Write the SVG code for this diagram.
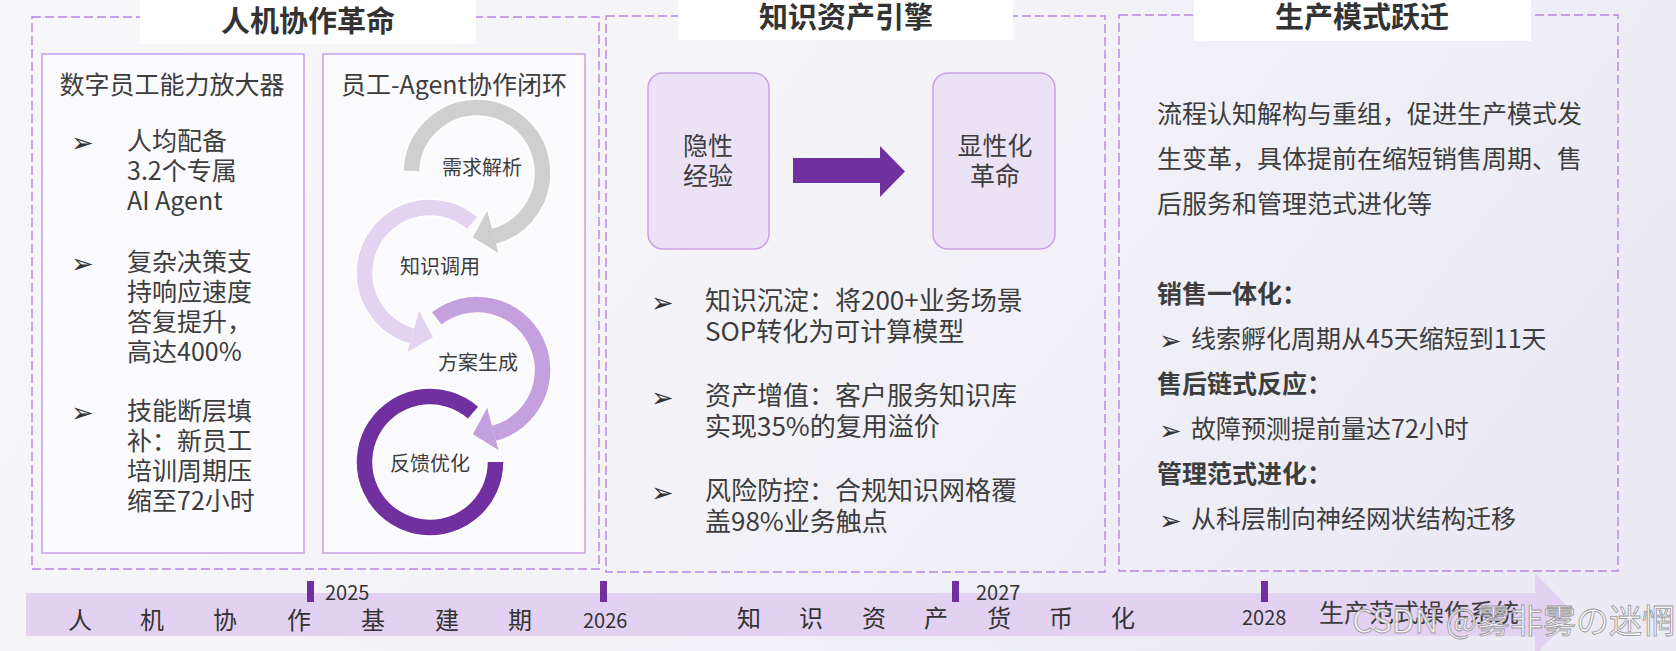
<svg xmlns="http://www.w3.org/2000/svg" width="1676" height="651" viewBox="0 0 1676 651">
<defs>
<linearGradient id="bg" x1="0" y1="0" x2="1" y2="0.3">
<stop offset="0" stop-color="#f7f7fa"/>
<stop offset="0.5" stop-color="#f4f4f8"/>
<stop offset="1" stop-color="#ecebf5"/>
</linearGradient>
<style>
.t{font-family:"Noto Sans CJK SC","Noto Sans",sans-serif;fill:#3d3d3d}
.title{font-size:29px;font-weight:bold;fill:#333;text-anchor:middle}
.h{font-size:25px}
.b25{font-size:25px}
.b26{font-size:26px}
.bold{font-weight:bold}
.ring{font-size:20px;text-anchor:middle}
.yr{font-size:20px;fill:#333}
.ph{font-size:24px;fill:#333;text-anchor:middle}
.arr{font-family:"DejaVu Sans",sans-serif;font-size:27px;fill:#333}
.dash{fill:none;stroke:#b784e2;stroke-width:1.4;stroke-dasharray:9 4}
.inner{fill:#fbfbfd;stroke:#c8a6e8;stroke-width:1.6}
.wbox{fill:#ffffff}
.card{fill:#ece2f6;stroke:#c9a3e4;stroke-width:1.5}
.halo{fill:none;stroke:#ffffff;stroke-width:19}
.halo2{stroke:#ffffff;stroke-width:3;stroke-linejoin:round}
.tick{fill:#7030a0}
</style>
</defs>
<rect x="0" y="0" width="1676" height="651" fill="url(#bg)"/>

<!-- Panel 1 -->
<g id="panel-hmc">
<rect class="dash" x="32" y="17" width="567" height="552"/>
<rect class="wbox" x="140" y="0" width="336" height="44"/>
<text class="t title" x="308" y="32">人机协作革命</text>
</g>
<g id="box-amplifier">
<rect class="inner" x="42" y="54" width="262" height="499"/>
<text class="t h" x="172" y="94" text-anchor="middle">数字员工能力放大器</text>
<text class="arr" x="71" y="152">➢</text>
<text class="t b25" x="127" y="150">人均配备</text>
<text class="t b25" x="127" y="180">3.2个专属</text>
<text class="t b25" x="127" y="210">AI Agent</text>
<text class="arr" x="71" y="273">➢</text>
<text class="t b25" x="127" y="271">复杂决策支</text>
<text class="t b25" x="127" y="301">持响应速度</text>
<text class="t b25" x="127" y="331">答复提升，</text>
<text class="t b25" x="127" y="361">高达400%</text>
<text class="arr" x="71" y="422">➢</text>
<text class="t b25" x="127" y="420">技能断层填</text>
<text class="t b25" x="127" y="450">补：新员工</text>
<text class="t b25" x="127" y="480">培训周期压</text>
<text class="t b25" x="127" y="510">缩至72小时</text>
</g>
<g id="box-loop">
<rect class="inner" x="323" y="54" width="262" height="499"/>
<text class="t h" x="454" y="94" text-anchor="middle">员工-Agent协作闭环</text>
</g>

<!-- cycle rings -->
<g id="ring-feedback">
<path class="halo" d="M 495.5 462 A 65.5 65.5 0 1 1 473 412.6"/>
<path d="M 495.5 462 A 65.5 65.5 0 1 1 473 412.6" fill="none" stroke="#7030a0" stroke-width="15.5"/>
<text class="t ring" x="430" y="471">反馈优化</text>
</g>
<g id="ring-solution">
<path class="halo" d="M 436.7 318.4 A 65.5 65.5 0 1 1 493.95 433.27"/>
<polygon class="halo2" fill="#ffffff" points="498.6,450.2 487.2,407.8 472.8,434.3"/>
<path d="M 436.7 318.4 A 65.5 65.5 0 1 1 493.95 433.27" fill="none" stroke="#c5a0df" stroke-width="15.5"/>
<polygon fill="#c5a0df" points="498.6,450.2 487.2,407.8 472.8,434.3"/>
<text class="t ring" x="478" y="370">方案生成</text>
</g>
<g id="ring-knowledge">
<path class="halo" d="M 472.1 222.8 A 65.5 65.5 0 1 0 411.95 335.96"/>
<polygon class="halo2" fill="#ffffff" points="407.2,352.6 419.2,310.6 433,337.3"/>
<path d="M 472.1 222.8 A 65.5 65.5 0 1 0 411.95 335.96" fill="none" stroke="#e3d3f1" stroke-width="15.5"/>
<polygon fill="#e3d3f1" points="407.2,352.6 419.2,310.6 433,337.3"/>
<text class="t ring" x="440" y="274">知识调用</text>
</g>
<g id="ring-demand">
<path class="halo" d="M 411.5 170.7 A 65.5 65.5 0 1 1 493.95 236.27"/>
<polygon class="halo2" fill="#ffffff" points="498.6,253.2 487.2,210.8 472.8,237.3"/>
<path d="M 411.5 170.7 A 65.5 65.5 0 1 1 493.95 236.27" fill="none" stroke="#d0cfd0" stroke-width="15.5"/>
<polygon fill="#d0cfd0" points="498.6,253.2 487.2,210.8 472.8,237.3"/>
<text class="t ring" x="482" y="175">需求解析</text>
</g>

<!-- Panel 2 -->
<g id="panel-ka">
<rect class="dash" x="606" y="16" width="499" height="556"/>
<rect class="wbox" x="678" y="0" width="335" height="40"/>
<text class="t title" x="846" y="28">知识资产引擎</text>
<text class="arr" x="651" y="312">➢</text>
<text class="t b26" x="705" y="310">知识沉淀：将200+业务场景</text>
<text class="t b26" x="705" y="341">SOP转化为可计算模型</text>
<text class="arr" x="651" y="407">➢</text>
<text class="t b26" x="705" y="405">资产增值：客户服务知识库</text>
<text class="t b26" x="705" y="436">实现35%的复用溢价</text>
<text class="arr" x="651" y="502">➢</text>
<text class="t b26" x="705" y="500">风险防控：合规知识网格覆</text>
<text class="t b26" x="705" y="531">盖98%业务触点</text>
</g>
<g id="card-tacit">
<rect class="card" x="648" y="73" width="121" height="176" rx="15"/>
<text class="t b25" x="708" y="155" text-anchor="middle">隐性</text>
<text class="t b25" x="708" y="185" text-anchor="middle">经验</text>
</g>
<g id="card-explicit">
<rect class="card" x="933" y="73" width="122" height="176" rx="15"/>
<text class="t b25" x="995" y="155" text-anchor="middle">显性化</text>
<text class="t b25" x="995" y="185" text-anchor="middle">革命</text>
</g>
<g id="connectors">
<polygon fill="#7030a0" points="793,158 880,158 880,146 905,171.5 880,197 880,183 793,183"/>
</g>

<!-- Panel 3 -->
<g id="panel-pm">
<rect class="dash" x="1119" y="15" width="499" height="556"/>
<rect class="wbox" x="1194" y="0" width="337" height="41"/>
<text class="t title" x="1362" y="28">生产模式跃迁</text>
<text class="t b25" x="1157" y="123">流程认知解构与重组，促进生产模式发</text>
<text class="t b25" x="1157" y="168">生变革，具体提前在缩短销售周期、售</text>
<text class="t b25" x="1157" y="213">后服务和管理范式进化等</text>
<text class="t b25 bold" x="1157" y="303">销售一体化：</text>
<text class="arr" x="1159" y="350">➢</text>
<text class="t b25" x="1191" y="348">线索孵化周期从45天缩短到11天</text>
<text class="t b25 bold" x="1157" y="393">售后链式反应：</text>
<text class="arr" x="1159" y="440">➢</text>
<text class="t b25" x="1191" y="438">故障预测提前量达72小时</text>
<text class="t b25 bold" x="1157" y="483">管理范式进化：</text>
<text class="arr" x="1159" y="530">➢</text>
<text class="t b25" x="1191" y="528">从科层制向神经网状结构迁移</text>
</g>

<!-- Timeline -->
<g id="timeline">
<polygon fill="#e2d1f1" points="26,593 1535,593 1535,573 1575,614 1535,655 1535,636 26,636"/>
<rect class="tick" x="307" y="581" width="7" height="21"/>
<rect class="tick" x="600" y="581" width="7" height="21"/>
<rect class="tick" x="952" y="581" width="7" height="21"/>
<rect class="tick" x="1261" y="581" width="7" height="21"/>
<text class="t yr" x="325" y="600">2025</text>
<text class="t yr" x="583" y="628">2026</text>
<text class="t yr" x="976" y="600">2027</text>
<text class="t yr" x="1242" y="625">2028</text>
<text class="t ph" x="80" y="629">人</text>
<text class="t ph" x="152" y="629">机</text>
<text class="t ph" x="225" y="629">协</text>
<text class="t ph" x="299" y="629">作</text>
<text class="t ph" x="373" y="629">基</text>
<text class="t ph" x="447" y="629">建</text>
<text class="t ph" x="520" y="629">期</text>
<text class="t ph" x="749" y="627">知</text>
<text class="t ph" x="811" y="627">识</text>
<text class="t ph" x="874" y="627">资</text>
<text class="t ph" x="936" y="627">产</text>
<text class="t ph" x="999" y="627">货</text>
<text class="t ph" x="1061" y="627">币</text>
<text class="t ph" x="1123" y="627">化</text>
<text class="t" x="1319" y="622" font-size="25" fill="#333">生产范式操作系统</text>
</g>
<text x="1352" y="633" font-family="'Noto Sans CJK SC','Noto Sans',sans-serif" font-size="33" fill="#f6f6f6" fill-opacity="0.85" stroke="#9a9a9a" stroke-width="0.8">CSDN @雾非雾の迷惘</text>
</svg>
